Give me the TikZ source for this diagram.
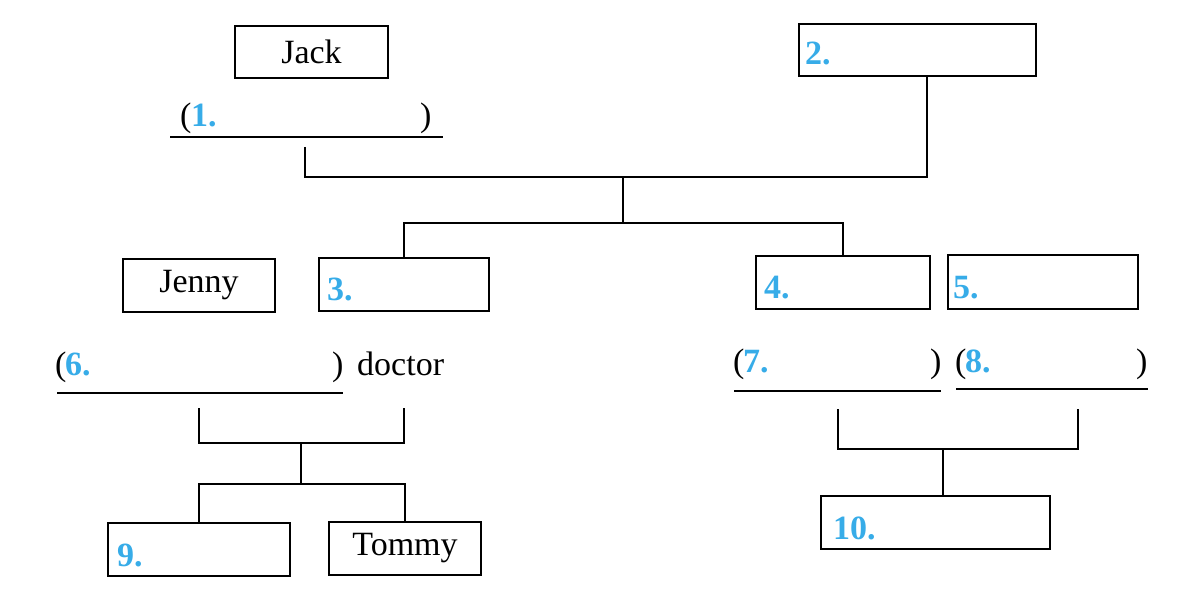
\documentclass[tikz,border=0pt]{standalone}
\usepackage{fontspec}
\setmainfont{Liberation Serif}
\definecolor{numblue}{RGB}{55,172,232}
\begin{document}
\begin{tikzpicture}[x=1pt,y=-1pt,
  every node/.style={font=\fontsize{34}{40}\selectfont},
  box/.style={draw,line width=1.8pt,inner sep=0pt,outer sep=0pt},
  num/.style={text=numblue,font=\fontsize{34}{40}\selectfont\bfseries,inner sep=0pt,anchor=base west},
  txt/.style={inner sep=0pt,anchor=base west},
  conn/.style={line width=1.8pt},
  uline/.style={line width=1.8pt}]
\useasboundingbox (0,0) rectangle (1191,593);
% boxes
\node[box,minimum width=153pt,minimum height=52pt] (jack) at (311.5,52) {Jack};
\node[box,minimum width=237pt,minimum height=52pt] (box2) at (917.5,50) {};
\node[box,minimum width=152pt,minimum height=53pt] (jenny) at (199,285.5) {Jenny};
\node[box,minimum width=170pt,minimum height=53pt] (box3) at (404,284.5) {};
\node[box,minimum width=174pt,minimum height=53pt] (box4) at (843,282.5) {};
\node[box,minimum width=190pt,minimum height=54pt] (box5) at (1043,282) {};
\node[box,minimum width=182pt,minimum height=53pt] (box9) at (199,549.5) {};
\node[box,minimum width=152pt,minimum height=53pt] (tommy) at (405,548.5) {Tommy};
\node[box,minimum width=229pt,minimum height=53pt] (box10) at (935.5,522.5) {};
% numbers in boxes
\node[num] (n2) at (805,65) {2.};
\node[num] (n3) at (327,301) {3.};
\node[num] (n4) at (764,299) {4.};
\node[num] (n5) at (953,299) {5.};
\node[num] (n9) at (117,566) {9.};
\node[num] (n10) at (833,539) {10.};
% bracket lines with blanks
\node[txt] (p1l) at (180,127) {(};
\node[num] (n1) at (191,127) {1.};
\node[txt] (p1r) at (420,127) {)};
\node[txt] (p6l) at (55,376) {(};
\node[num] (n6) at (65,376) {6.};
\node[txt] (p6r) at (332,376) {)};
\node[txt] (doc) at (357,376) {doctor};
\node[txt] (p7l) at (733,373) {(};
\node[num] (n7) at (743,373) {7.};
\node[txt] (p7r) at (930,373) {)};
\node[txt] (p8l) at (955,373) {(};
\node[num] (n8) at (965,373) {8.};
\node[txt] (p8r) at (1136,373) {)};
% underlines
\coordinate (u1a) at (170,137); \coordinate (u1b) at (443,137);
\coordinate (u6a) at (57,393);  \coordinate (u6b) at (343,393);
\coordinate (u7a) at (734,391); \coordinate (u7b) at (941,391);
\coordinate (u8a) at (956,389); \coordinate (u8b) at (1148,389);
\draw[uline] (u1a) -- (u1b);
\draw[uline] (u6a) -- (u6b);
\draw[uline] (u7a) -- (u7b);
\draw[uline] (u8a) -- (u8b);
% top family
\coordinate (a1) at (305,147);
\coordinate (c2) at (927,177);
\coordinate (j1) at (623,177);
\coordinate (j2) at (623,223);
\draw[conn] (a1) |- (c2) -- (c2 |- box2.south);
\draw[conn] (j1) -- (j2);
\draw[conn] (box3.north) |- (j2) -| (box4.north);
% Jenny family
\coordinate (p6) at (199,408);
\coordinate (pd) at (404,408);
\coordinate (j3) at (301,443);
\coordinate (j4) at (301,484);
\draw[conn] (p6) |- (j3) -| (pd);
\draw[conn] (j3) -- (j4);
\draw[conn] (box9.north) |- (j4) -| (tommy.north);
% right family
\coordinate (p7) at (838,409);
\coordinate (p8) at (1078,409);
\coordinate (j5) at (943,449);
\draw[conn] (p7) |- (j5) -| (p8);
\draw[conn] (j5) -- (j5 |- box10.north);
\end{tikzpicture}
\end{document}
